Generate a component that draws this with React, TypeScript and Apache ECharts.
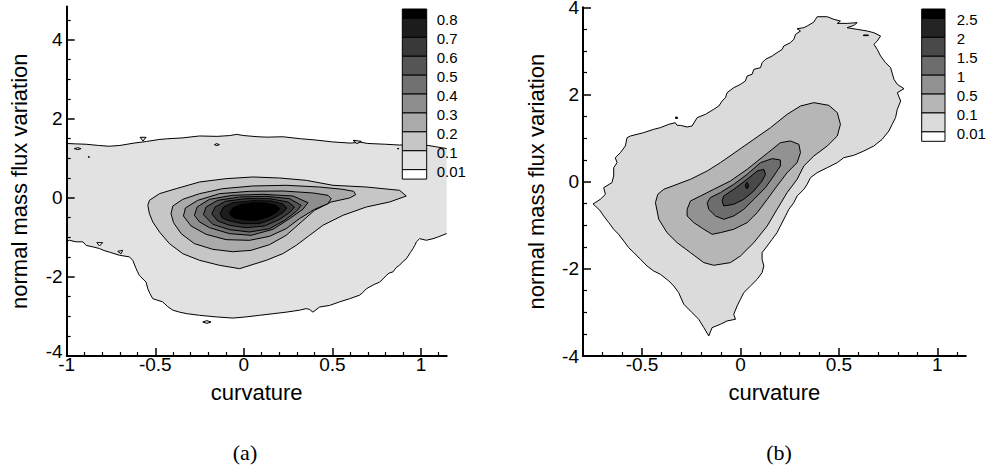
import React, { useEffect, useRef } from 'react';
import * as echarts from 'echarts';

type Pt = [number, number];

// ---------- contour levels & grey shades ----------
const aLevels = [0.01, 0.1, 0.2, 0.3, 0.4, 0.5, 0.6, 0.7, 0.8];
const aColors = ['#e2e2e2', '#c6c6c6', '#aaaaaa', '#8e8e8e', '#717171', '#555555', '#393939', '#1c1c1c', '#000000'];
const bLevels = [0.01, 0.1, 0.5, 1, 1.5, 2, 2.5];
const bColors = ['#dbdbdb', '#b6b6b6', '#929292', '#6d6d6d', '#494949', '#242424', '#000000'];

// ---------- axis ticks ----------
const aXMajor = [-1, -0.5, 0, 0.5, 1];
const aXMinor = [-0.9, -0.8, -0.7, -0.6, -0.4, -0.3, -0.2, -0.1, 0.1, 0.2, 0.3, 0.4, 0.6, 0.7, 0.8, 0.9, 1.1];
const aYMajor = [-4, -2, 0, 2, 4];
const aYMinor = [-3.5, -3, -2.5, -1.5, -1, -0.5, 0.5, 1, 1.5, 2.5, 3, 3.5, 4.5];
const bXMajor = [-0.5, 0, 0.5, 1];
const bXMinor = [-0.7, -0.6, -0.4, -0.3, -0.2, -0.1, 0.1, 0.2, 0.3, 0.4, 0.6, 0.7, 0.8, 0.9, 1.1];
const bYMajor = [-4, -2, 0, 2, 4];
const bYMinor = [-3.5, -3, -2.5, -1.5, -1, -0.5, 0.5, 1, 1.5, 2.5, 3, 3.5];

// ---------- panel (a) contours ----------
const aOuterTop: Pt[] = [
  [-1, 1.38], [-0.95, 1.37], [-0.89, 1.36], [-0.82, 1.33], [-0.76, 1.31], [-0.7, 1.33], [-0.62, 1.39],
  [-0.55, 1.43], [-0.48, 1.48], [-0.43, 1.5], [-0.35, 1.52], [-0.25, 1.57], [-0.15, 1.56], [-0.08, 1.58],
  [-0.04, 1.61], [0.0, 1.58], [0.08, 1.55], [0.13, 1.54], [0.22, 1.55], [0.32, 1.5], [0.4, 1.47],
  [0.5, 1.42], [0.6, 1.39], [0.66, 1.41], [0.7, 1.38], [0.8, 1.36], [0.88, 1.34], [0.95, 1.36],
  [1.0, 1.33], [1.04, 1.33], [1.08, 1.3], [1.145, 1.25],
];
const aOuterBottom: Pt[] = [
  [1.145, -0.9], [1.1, -0.98], [1.068, -1.03], [1.03, -1.07], [0.992, -1.03], [0.974, -1.11], [0.965, -1.2],
  [0.955, -1.28], [0.94, -1.38], [0.917, -1.54], [0.9, -1.6], [0.879, -1.7], [0.86, -1.76], [0.842, -1.87],
  [0.82, -1.9], [0.804, -1.96], [0.785, -2.05], [0.766, -2.13], [0.73, -2.2], [0.691, -2.3], [0.67, -2.4],
  [0.653, -2.46], [0.597, -2.55], [0.54, -2.63], [0.484, -2.72], [0.427, -2.76], [0.39, -2.89], [0.37, -2.82],
  [0.352, -2.8], [0.314, -2.84], [0.239, -2.89], [0.164, -2.93], [0.089, -2.97], [0.013, -3.01],
  [-0.062, -3.04], [-0.156, -3.01], [-0.25, -2.97], [-0.32, -2.93], [-0.363, -2.89], [-0.401, -2.84],
  [-0.43, -2.75], [-0.458, -2.63], [-0.514, -2.55], [-0.53, -2.42], [-0.542, -2.3], [-0.552, -2.13],
  [-0.59, -1.96], [-0.6, -1.87], [-0.608, -1.79], [-0.627, -1.58], [-0.646, -1.49], [-0.702, -1.45],
  [-0.759, -1.37], [-0.79, -1.33], [-0.815, -1.28], [-0.85, -1.24], [-0.89, -1.2], [-0.909, -1.11],
  [-0.947, -1.11], [-0.985, -1.07], [-1, -1.1],
];
const aC010: Pt[] = [
  [-0.542, -0.186], [-0.533, -0.059], [-0.476, 0.11], [-0.382, 0.236], [-0.25, 0.405], [-0.1, 0.489],
  [0.051, 0.532], [0.202, 0.506], [0.352, 0.447], [0.503, 0.321], [0.691, 0.278], [0.879, 0.194],
  [0.917, 0.051], [0.823, -0.101], [0.691, -0.228], [0.559, -0.439], [0.446, -0.692], [0.371, -0.945],
  [0.296, -1.198], [0.22, -1.409], [0.126, -1.578], [-0.024, -1.789], [-0.137, -1.705], [-0.25, -1.578],
  [-0.345, -1.409], [-0.42, -1.156], [-0.476, -0.861], [-0.514, -0.608], [-0.533, -0.397],
];
const aC020: Pt[] = [
  [-0.411, -0.397], [-0.401, -0.203], [-0.345, -0.034], [-0.25, 0.11], [-0.119, 0.236], [0.051, 0.304],
  [0.239, 0.321], [0.427, 0.278], [0.559, 0.219], [0.62, 0.169], [0.631, 0.084], [0.597, 0],
  [0.493, -0.101], [0.399, -0.312], [0.324, -0.608], [0.239, -0.945], [0.145, -1.181], [0.041, -1.325],
  [-0.062, -1.36], [-0.175, -1.3], [-0.279, -1.156], [-0.354, -0.903], [-0.397, -0.624],
];
const aC030: Pt[] = [
  [-0.341, -0.456], [-0.33, -0.253], [-0.26, -0.059], [-0.137, 0.11], [0.032, 0.169], [0.22, 0.177],
  [0.39, 0.127], [0.475, 0.068], [0.493, -0.017], [0.475, -0.143], [0.399, -0.287], [0.314, -0.523],
  [0.239, -0.776], [0.145, -0.97], [0.032, -1.072], [-0.1, -1.055], [-0.213, -0.92], [-0.298, -0.709],
];
const aC040: Pt[] = [
  [-0.279, -0.439], [-0.264, -0.228], [-0.194, -0.034], [-0.062, 0.068], [0.107, 0.093], [0.277, 0.051],
  [0.362, -0.118], [0.333, -0.287], [0.258, -0.523], [0.164, -0.793], [0.041, -0.945], [-0.081, -0.903],
  [-0.194, -0.751], [-0.25, -0.608],
];
const aC050: Pt[] = [
  [-0.228, -0.422], [-0.213, -0.228], [-0.147, -0.059], [-0.024, 0.025], [0.126, 0.042], [0.258, -0.017],
  [0.324, -0.186], [0.296, -0.338], [0.23, -0.565], [0.145, -0.776], [0.032, -0.861], [-0.081, -0.802],
  [-0.175, -0.667],
];
const aC060: Pt[] = [
  [-0.181, -0.405], [-0.162, -0.228], [-0.104, -0.084], [0.013, -0.017], [0.145, -0.017], [0.249, -0.101],
  [0.286, -0.228], [0.262, -0.354], [0.202, -0.54], [0.117, -0.709], [0.013, -0.751], [-0.081, -0.692],
  [-0.147, -0.582],
];
const aC070: Pt[] = [
  [-0.134, -0.388], [-0.115, -0.228], [-0.062, -0.118], [0.051, -0.068], [0.154, -0.076], [0.22, -0.152],
  [0.243, -0.253], [0.22, -0.371], [0.164, -0.523], [0.089, -0.65], [-0.006, -0.65], [-0.081, -0.582],
  [-0.122, -0.506],
];
const aC080: Pt[] = [
  [-0.081, -0.371], [-0.062, -0.245], [-0.015, -0.16], [0.051, -0.118], [0.126, -0.127], [0.183, -0.186],
  [0.202, -0.27], [0.183, -0.371], [0.136, -0.481], [0.07, -0.565], [0.004, -0.557], [-0.053, -0.506],
  [-0.075, -0.439],
];
const aIslands: Pt[][] = [
  [[-0.586, 1.536], [-0.552, 1.536], [-0.569, 1.443]],
  [[-0.166, 1.35], [-0.153, 1.376], [-0.138, 1.35], [-0.153, 1.325]],
  [[0.616, 1.46], [0.663, 1.435], [0.638, 1.376]],
  [[-0.957, 1.249], [-0.938, 1.274], [-0.919, 1.249], [-0.938, 1.224]],
  [[-0.88, 1.04], [-0.872, 1.045], [-0.872, 1.03]],
  [[0.866, 1.25], [0.874, 1.255], [0.874, 1.24]],
  [[-0.232, -3.139], [-0.209, -3.105], [-0.185, -3.139], [-0.209, -3.173]],
];
const aHoles: Pt[][] = [
  [[-0.83, -1.13], [-0.797, -1.13], [-0.815, -1.215]],
  [[-0.712, -1.35], [-0.684, -1.325], [-0.693, -1.41]],
];

// ---------- panel (b) contours ----------
const bOuter: Pt[] = [
  [-0.749, -0.512], [-0.712, -0.405], [-0.686, -0.291], [-0.695, -0.138], [-0.653, -0.023], [-0.644, 0.13],
  [-0.644, 0.321], [-0.627, 0.436], [-0.636, 0.55], [-0.61, 0.665], [-0.585, 0.818], [-0.576, 1.009],
  [-0.559, 1.047], [-0.492, 1.124], [-0.441, 1.2], [-0.407, 1.239], [-0.364, 1.315], [-0.331, 1.353],
  [-0.322, 1.292], [-0.305, 1.292], [-0.271, 1.254], [-0.246, 1.277], [-0.22, 1.468], [-0.178, 1.544],
  [-0.136, 1.659], [-0.11, 1.735], [-0.093, 1.85], [-0.076, 1.927], [-0.068, 2.041], [-0.034, 2.156],
  [0, 2.232], [0.025, 2.309], [0.034, 2.424], [0.059, 2.462], [0.068, 2.576], [0.102, 2.615],
  [0.11, 2.729], [0.127, 2.806], [0.161, 2.882], [0.186, 2.959], [0.212, 3.035], [0.22, 3.112],
  [0.254, 3.188], [0.271, 3.265], [0.28, 3.379], [0.305, 3.456], [0.288, 3.509], [0.322, 3.532],
  [0.339, 3.57], [0.373, 3.662], [0.381, 3.723], [0.39, 3.784], [0.441, 3.784], [0.475, 3.723],
  [0.508, 3.685], [0.492, 3.631], [0.542, 3.631], [0.593, 3.647], [0.576, 3.586], [0.542, 3.532],
  [0.593, 3.494], [0.644, 3.456], [0.678, 3.417], [0.712, 3.341], [0.695, 3.226], [0.678, 3.15],
  [0.695, 3.035], [0.712, 2.882], [0.737, 2.729], [0.763, 2.615], [0.78, 2.347], [0.797, 2.232],
  [0.831, 2.133], [0.797, 2.041], [0.814, 1.85], [0.797, 1.659], [0.788, 1.468], [0.771, 1.315],
  [0.754, 1.162], [0.72, 0.971], [0.678, 0.818], [0.627, 0.703], [0.576, 0.604], [0.525, 0.55],
  [0.492, 0.436], [0.441, 0.321], [0.39, 0.206], [0.356, 0.092], [0.339, -0.061], [0.322, -0.176],
  [0.288, -0.329], [0.271, -0.482], [0.246, -0.635], [0.229, -0.787], [0.203, -1.017], [0.186, -1.17],
  [0.161, -1.323], [0.136, -1.476], [0.11, -1.628], [0.11, -1.781], [0.119, -1.934], [0.11, -2.087],
  [0.085, -2.24], [0.051, -2.393], [0.017, -2.546], [0, -2.699], [-0.017, -2.852], [-0.034, -3.043],
  [-0.025, -3.157], [-0.068, -3.196], [-0.102, -3.272], [-0.144, -3.349], [-0.161, -3.54],
  [-0.186, -3.349], [-0.212, -3.157], [-0.246, -3.005], [-0.288, -2.813], [-0.314, -2.546],
  [-0.339, -2.393], [-0.364, -2.278], [-0.407, -2.125], [-0.441, -2.049], [-0.475, -1.934],
  [-0.508, -1.781], [-0.542, -1.628], [-0.568, -1.514], [-0.593, -1.361], [-0.619, -1.208],
  [-0.644, -1.093], [-0.669, -0.94], [-0.695, -0.787], [-0.712, -0.673], [-0.737, -0.558],
];
const bC010: Pt[] = [
  [-0.432, -0.482], [-0.42, -0.291], [-0.39, -0.176], [-0.322, -0.061], [-0.254, 0.054], [-0.169, 0.245],
  [-0.102, 0.436], [-0.017, 0.703], [0.068, 0.971], [0.153, 1.239], [0.237, 1.544], [0.305, 1.735],
  [0.373, 1.812], [0.449, 1.751], [0.492, 1.583], [0.508, 1.315], [0.492, 1.047], [0.441, 0.818],
  [0.373, 0.589], [0.322, 0.359], [0.288, 0.054], [0.237, -0.252], [0.186, -0.635], [0.136, -1.017],
  [0.068, -1.399], [0, -1.705], [-0.051, -1.858], [-0.136, -1.919], [-0.186, -1.858], [-0.254, -1.628],
  [-0.322, -1.399], [-0.373, -1.17], [-0.415, -0.864],
];
const bC050: Pt[] = [
  [-0.271, -0.635], [-0.254, -0.443], [-0.203, -0.329], [-0.136, -0.176], [-0.051, 0.015], [0.034, 0.283],
  [0.119, 0.589], [0.203, 0.894], [0.254, 0.933], [0.297, 0.856], [0.305, 0.665], [0.288, 0.436],
  [0.237, 0.206], [0.186, -0.099], [0.136, -0.405], [0.085, -0.711], [0.034, -0.94], [-0.034, -1.093],
  [-0.102, -1.17], [-0.144, -1.208], [-0.186, -1.093], [-0.237, -0.94], [-0.271, -0.787],
];
const bC100: Pt[] = [
  [-0.169, -0.482], [-0.153, -0.367], [-0.102, -0.252], [-0.034, -0.061], [0.034, 0.168], [0.102, 0.436],
  [0.161, 0.528], [0.203, 0.497], [0.203, 0.359], [0.169, 0.13], [0.127, -0.138], [0.068, -0.405],
  [0.017, -0.635], [-0.034, -0.787], [-0.085, -0.864], [-0.127, -0.787], [-0.161, -0.635],
];
const bC150: Pt[] = [
  [-0.093, -0.443], [-0.085, -0.329], [-0.034, -0.176], [0.034, 0.054], [0.085, 0.245], [0.119, 0.283],
  [0.127, 0.168], [0.11, 0.015], [0.068, -0.214], [0.017, -0.405], [-0.034, -0.52], [-0.085, -0.558],
];
const bC200: Pt[] = [
  [0.034, -0.02], [0.04, -0.06], [0.041, -0.1], [0.037, -0.15], [0.029, -0.15], [0.026, -0.1], [0.027, -0.05],
];
const bIslands: Pt[][] = [
  [[-0.33, 1.48], [-0.32, 1.48], [-0.32, 1.45], [-0.33, 1.45]],
  [[0.625, 3.365], [0.65, 3.365], [0.65, 3.35], [0.625, 3.35]],
];

type Shape = { pts: Pt[]; fill?: string; stroke: boolean; line?: boolean };

const shapesA: Shape[] = [
  { pts: [...aOuterTop, ...aOuterBottom], fill: aColors[0], stroke: false },
  { pts: aOuterTop, stroke: true, line: true },
  { pts: aOuterBottom, stroke: true, line: true },
  ...aIslands.map((p) => ({ pts: p, fill: aColors[0], stroke: true })),
  ...aHoles.map((p) => ({ pts: p, fill: '#ffffff', stroke: true })),
  { pts: aC010, fill: aColors[1], stroke: true },
  { pts: aC020, fill: aColors[2], stroke: true },
  { pts: aC030, fill: aColors[3], stroke: true },
  { pts: aC040, fill: aColors[4], stroke: true },
  { pts: aC050, fill: aColors[5], stroke: true },
  { pts: aC060, fill: aColors[6], stroke: true },
  { pts: aC070, fill: aColors[7], stroke: true },
  { pts: aC080, fill: aColors[8], stroke: true },
];
const shapesB: Shape[] = [
  { pts: bOuter, fill: bColors[0], stroke: true },
  ...bIslands.map((p) => ({ pts: p, fill: '#000000', stroke: true })),
  { pts: bC010, fill: bColors[1], stroke: true },
  { pts: bC050, fill: bColors[2], stroke: true },
  { pts: bC100, fill: bColors[3], stroke: true },
  { pts: bC150, fill: bColors[4], stroke: true },
  { pts: bC200, fill: bColors[5], stroke: true },
];

const FONT = 'Liberation Sans, Arial, Helvetica, sans-serif';

function makeRender(shapes: Shape[]) {
  return (params: any, api: any) => {
    const s = shapes[params.dataIndex];
    const points = s.pts.map((p) => api.coord(p));
    if (s.line) {
      return { type: 'polyline', shape: { points }, style: { stroke: '#000', lineWidth: 1, fill: 'none' } };
    }
    return {
      type: 'polygon',
      shape: { points },
      style: { fill: s.fill, stroke: s.stroke ? '#000' : 'none', lineWidth: 1 },
    };
  };
}

function axisPair(
  kind: 'x' | 'y',
  gridIndex: number,
  min: number,
  max: number,
  major: number[],
  minor: number[],
  name: string,
  liftMin = false,
) {
  const isX = kind === 'x';
  const main: any = {
    type: 'value',
    gridIndex,
    min,
    max,
    position: isX ? 'bottom' : 'left',
    z: 5,
    name,
    nameLocation: 'middle',
    nameGap: isX ? 25 : 36,
    nameTextStyle: { color: '#000', fontSize: 22, fontFamily: FONT },
    axisLine: { show: true, onZero: false, lineStyle: { color: '#000', width: 2 } },
    axisTick: { show: true, inside: true, length: 8, customValues: major, lineStyle: { color: '#000', width: 1.5 } },
    axisLabel: {
      show: true,
      customValues: major,
      margin: isX ? -1 : 4,
      color: '#000',
      fontSize: 19,
      fontFamily: FONT,
      formatter: liftMin ? (v: number) => (v === min ? '{lift|' + v + '}' : String(v)) : undefined,
      rich: liftMin ? { lift: { fontSize: 19, fontFamily: FONT, color: '#000', padding: [0, 0, 9, 0] } } : undefined,
    },
    splitLine: { show: false },
  };
  const sub: any = {
    type: 'value',
    gridIndex,
    min,
    max,
    position: isX ? 'bottom' : 'left',
    z: 5,
    axisLine: { show: false, onZero: false },
    axisTick: { show: true, inside: true, length: 4, customValues: minor, lineStyle: { color: '#000', width: 1.2 } },
    axisLabel: { show: false },
    splitLine: { show: false },
  };
  return [main, sub];
}

function legendGraphics(levels: number[], colors: string[], x: number, w: number, top: number, step: number, labelX: number) {
  const els: any[] = [];
  const n = levels.length;
  const half = step / 2;
  els.push({ type: 'rect', z: 100, shape: { x, y: top, width: w, height: half }, style: { fill: colors[n - 1], stroke: '#000', lineWidth: 1 } });
  for (let i = 0; i < n - 1; i++) {
    els.push({
      type: 'rect',
      z: 100,
      shape: { x, y: top + half + i * step, width: w, height: step },
      style: { fill: colors[n - 2 - i], stroke: '#000', lineWidth: 1 },
    });
  }
  els.push({
    type: 'rect',
    z: 100,
    shape: { x, y: top + half + (n - 1) * step, width: w, height: half },
    style: { fill: '#ffffff', stroke: '#000', lineWidth: 1 },
  });
  for (let i = 0; i < n; i++) {
    els.push({
      type: 'text',
      z: 100,
      x: labelX,
      y: top + half + i * step + 1.5,
      style: { text: String(levels[n - 1 - i]), fill: '#000', fontSize: 15, fontFamily: FONT, textAlign: 'left', textVerticalAlign: 'middle' },
    });
  }
  return els;
}

export default function App() {
  const ref = useRef<HTMLDivElement>(null);
  useEffect(() => {
    if (!ref.current) return;
    const chart = echarts.init(ref.current, undefined, { renderer: 'svg' });
    const [xa, xam] = axisPair('x', 0, -1, 1.145, aXMajor, aXMinor, 'curvature');
    const [xb, xbm] = axisPair('x', 1, -0.8, 1.145, bXMajor, bXMinor, 'curvature');
    const [ya, yam] = axisPair('y', 0, -4, 4.85, aYMajor, aYMinor, 'normal mass flux variation', true);
    const [yb, ybm] = axisPair('y', 1, -4, 4, bYMajor, bYMinor, 'normal mass flux variation');
    chart.setOption({
      animation: false,
      backgroundColor: '#ffffff',
      grid: [
        { left: 66.7, top: 6.4, width: 380, height: 349.6, outerBoundsMode: 'none', containLabel: false },
        { left: 583, top: 7.3, width: 382.8, height: 348.7, outerBoundsMode: 'none', containLabel: false },
      ],
      xAxis: [xa, xam, xb, xbm],
      yAxis: [ya, yam, yb, ybm],
      series: [
        {
          type: 'custom',
          xAxisIndex: 0,
          yAxisIndex: 0,
          z: 1,
          silent: true,
          clip: true,
          renderItem: makeRender(shapesA),
          data: shapesA.map((s) => s.pts[0]),
        },
        {
          type: 'custom',
          xAxisIndex: 2,
          yAxisIndex: 2,
          z: 1,
          silent: true,
          clip: true,
          renderItem: makeRender(shapesB),
          data: shapesB.map((s) => s.pts[0]),
        },
      ],
      graphic: [
        ...legendGraphics(aLevels, aColors, 402.3, 24.4, 9, 18.9, 436.7),
        ...legendGraphics(bLevels, bColors, 921.7, 23.3, 9, 18.9, 956.7),
        {
          type: 'text',
          z: 100,
          x: 245,
          y: 452,
          style: { text: '(a)', fill: '#000', fontSize: 22, fontFamily: 'Liberation Serif, serif', textAlign: 'center', textVerticalAlign: 'middle' },
        },
        {
          type: 'text',
          z: 100,
          x: 779,
          y: 452,
          style: { text: '(b)', fill: '#000', fontSize: 22, fontFamily: 'Liberation Serif, serif', textAlign: 'center', textVerticalAlign: 'middle' },
        },
      ],
    });
    return () => chart.dispose();
  }, []);
  return <div ref={ref} style={{ position: 'absolute', left: 0, top: 0, width: 987, height: 472 }} />;
}
